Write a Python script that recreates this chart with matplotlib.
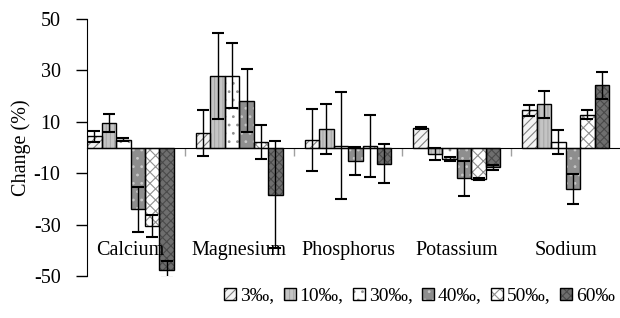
import numpy as np
import matplotlib
matplotlib.use("Agg")
import matplotlib.pyplot as plt
from matplotlib.patches import Patch

plt.rcParams['font.family'] = ['Liberation Serif', 'DejaVu Serif']
plt.rcParams['axes.unicode_minus'] = False
plt.rcParams['hatch.linewidth'] = 0.8

categories = ['Calcium', 'Magnesium', 'Phosphorus', 'Potassium', 'Sodium']
levels = ['3‰', '10‰', '30‰', '40‰', '50‰', '60‰']

# mean change (%) per salinity level, one value per element
val_3 = [4.3, 5.6, 2.8, 7.5, 14.4]
val_10 = [9.5, 27.9, 7.1, -2.5, 16.8]
val_30 = [3.0, 27.9, 0.7, -4.4, 2.2]
val_40 = [-24.1, 18.2, -5.3, -11.9, -16.2]
val_50 = [-30.4, 2.2, 0.7, -12.2, 12.8]
val_60 = [-47.6, -18.3, -6.3, -7.7, 24.2]

err_3 = [2.2, 9.1, 12.0, 0.4, 2.3]
err_10 = [3.5, 16.7, 9.7, 2.2, 5.3]
err_30 = [0.6, 12.6, 20.8, 0.8, 4.7]
err_40 = [8.6, 12.2, 5.5, 6.8, 5.7]
err_50 = [4.3, 6.6, 12.0, 0.4, 1.8]
err_60 = [3.3, 20.8, 7.6, 1.0, 5.3]

values = [val_3, val_10, val_30, val_40, val_50, val_60]
errors = [err_3, err_10, err_30, err_40, err_50, err_60]

# face colour, hatch, hatch colour for each level
styles = [
    ('#f4f4f4', '////', '#808080'),
    ('#c4c4c4', '||||', '#a8a8a8'),
    ('#ffffff', '..', '#909090'),
    ('#8e8e8e', '..', '#c8c8c8'),
    ('#ffffff', 'xxx', '#909090'),
    ('#6e6e6e', 'xxxx', '#4a4a4a'),
]

fig = plt.figure(figsize=(6.2, 3.18), dpi=100)
ax = fig.add_axes([87 / 620, 42 / 318, 533 / 620, 257 / 318])

x = np.arange(len(categories))
w = 0.133
for j, (vals, errs) in enumerate(zip(values, errors)):
    fc, hatch, hc = styles[j]
    pos = x + (j - 2.5) * w
    ax.bar(pos, vals, w, color=fc, hatch=hatch, edgecolor=hc, linewidth=0, zorder=2)
    ax.bar(pos, vals, w, fill=False, edgecolor='black', linewidth=1.0, zorder=3)
    ax.errorbar(pos, vals, yerr=errs, fmt='none', ecolor='black', elinewidth=1.0,
                capsize=4, capthick=1.5, zorder=4)

for i, name in enumerate(categories):
    ax.text(x[i], -40, name, ha='center', va='center', fontsize=14.5)

ax.set_xlim(-0.4, 4.5)
ax.set_ylim(-50, 50)
ax.set_yticks([-50, -30, -10, 10, 30, 50])
ax.tick_params(axis='y', direction='out', length=8, width=1, pad=11, labelsize=14.5)
ax.set_xticks(x[:-1] + 0.5)
ax.set_xticklabels([])
ax.tick_params(axis='x', direction='out', length=6, width=1, color='#a0a0a0')
ax.spines['top'].set_visible(False)
ax.spines['right'].set_visible(False)
ax.spines['bottom'].set_position(('data', 0))
ax.spines['bottom'].set_zorder(5)
ax.set_ylabel('Change (%)', fontsize=14.5, labelpad=2)

handles = []
for fc, hatch, hc in styles:
    handles.append((Patch(facecolor=fc, hatch=hatch, edgecolor=hc, linewidth=0),
                    Patch(fill=False, edgecolor='black', linewidth=1.0)))
labels = [lv + ',' for lv in levels[:-1]] + [levels[-1]]
fig.legend(handles, labels, loc='center', bbox_to_anchor=(0.677, 0.069), ncol=6,
           frameon=False, fontsize=14, handlelength=0.6, handleheight=0.6,
           handletextpad=0.2, columnspacing=0.5, borderaxespad=0, borderpad=0.2)

fig.savefig('out.png', dpi=100)
